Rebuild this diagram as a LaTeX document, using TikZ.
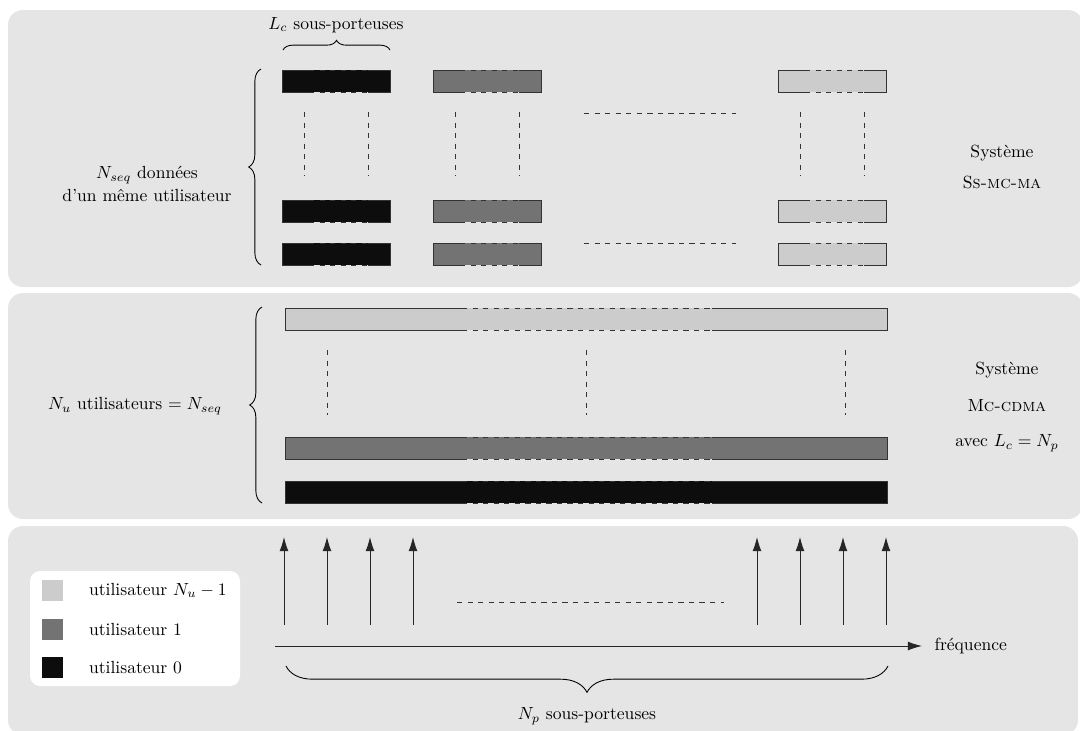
\documentclass[tikz,border=0pt]{standalone}
\usepackage{amsmath}
\usetikzlibrary{decorations.pathreplacing,arrows.meta}

\definecolor{panelgray}{gray}{0.9}
\definecolor{userzero}{gray}{0.05}
\definecolor{userone}{gray}{0.45}
\definecolor{userlast}{gray}{0.8}

\begin{document}
\begin{tikzpicture}[x=0.02cm, y=-0.02cm]
    \tikzset{
        panel/.style={fill=panelgray, rounded corners=0.3cm},
        edgestyle/.style={line width=0.5pt, black!80},
        dotsstyle/.style={dashed, line width=0.4pt, black!80},
        bracestyle/.style={decorate, decoration={brace, amplitude=#1}, line width=0.5pt},
        carrier/.style={-{Latex[length=8pt, width=5pt]}, line width=0.5pt, black!85},
        label/.style={align=center, inner sep=1pt}
    }
    \useasboundingbox (0,0) rectangle (1080,731);

    % --- FONDS ---
    \fill[panel] (8,10) rectangle (1083,287);
    \fill[panel] (8,293) rectangle (1083,519);
    \fill[panel] (8,526) rectangle (1078,735);

    % --- SYSTEME SS-MC-MA ---
    \foreach \x/\col in {282/userzero, 433/userone, 778/userlast} {
        \foreach \y in {70,200,243} {
            \fill[\col] (\x,\y) rectangle (\x+108,\y+22);
            \draw[edgestyle] (\x+27,\y) -- (\x,\y) -- (\x,\y+22) -- (\x+27,\y+22);
            \draw[edgestyle] (\x+86,\y) -- (\x+108,\y) -- (\x+108,\y+22) -- (\x+86,\y+22);
            \draw[dotsstyle] (\x+27,\y) -- (\x+86,\y);
            \draw[dotsstyle] (\x+27,\y+22) -- (\x+86,\y+22);
        }
        \draw[dotsstyle] (\x+22,112) -- (\x+22,176);
        \draw[dotsstyle] (\x+86,112) -- (\x+86,176);
    }
    \draw[dotsstyle] (584,113) -- (736,113);
    \draw[dotsstyle] (584,243) -- (736,243);

    \draw[bracestyle=5.5pt] (283,50) -- (390,50);
    \node[label] (lc) at (336,25) {$L_c$ sous-porteuses};

    \draw[bracestyle=7pt] (261,265) -- (261,69);
    \node[label] (nseq) at (147,184) {$N_{seq}$ données\\[1pt] d'un même utilisateur};

    \node[label] (ssmcma) at (1002,167) {Système\\[6pt] S\textsc{s-mc-ma}};

    % --- SYSTEME MC-CDMA ---
    \foreach \y/\col in {308/userlast, 437/userone, 481/userzero} {
        \fill[\col] (285,\y) rectangle (887,\y+22);
        \draw[edgestyle] (462,\y) -- (285,\y) -- (285,\y+22) -- (462,\y+22);
        \draw[edgestyle] (712,\y) -- (887,\y) -- (887,\y+22) -- (712,\y+22);
        \draw[dotsstyle] (462,\y) -- (712,\y);
        \draw[dotsstyle] (462,\y+22) -- (712,\y+22);
    }
    \foreach \x in {327,586,845} {
        \draw[dotsstyle] (\x,350) -- (\x,415);
    }

    \draw[bracestyle=7pt] (262,503) -- (262,307);
    \node[label] (nu) at (135,406) {$N_u$ utilisateurs $= N_{seq}$};

    \node[label] (mccdma) at (1007,407) {Système\\[9pt] M\textsc{c-cdma}\\[8pt] avec $L_c = N_p$};

    % --- SOUS-PORTEUSES ---
    \foreach \x in {284,327,370,413,757,800,843,886} {
        \draw[carrier] (\x,625) -- (\x,537);
    }
    \draw[dotsstyle] (457,602) -- (724,602);

    \coordinate (axisstart) at (275,646);
    \coordinate (axisend) at (922,646);
    \draw[carrier] (axisstart) -- (axisend);
    \node[label, anchor=west, xshift=6pt] (freq) at (axisend) {fréquence};

    \draw[bracestyle=15pt] (888,666) -- (286,666);
    \node[label] (np) at (587,716) {$N_p$ sous-porteuses};

    % --- LEGENDE ---
    \fill[white, rounded corners=0.2cm] (30,571) rectangle (240,686);
    \foreach \y/\col/\txt in {580/userlast/{utilisateur $N_u - 1$}, 619/userone/{utilisateur 1}, 657/userzero/{utilisateur 0}} {
        \fill[\col] (42,\y) rectangle (63,\y+21);
        \node[label, anchor=west] at (87,\y+10.5) {\txt};
    }
\end{tikzpicture}
\end{document}
